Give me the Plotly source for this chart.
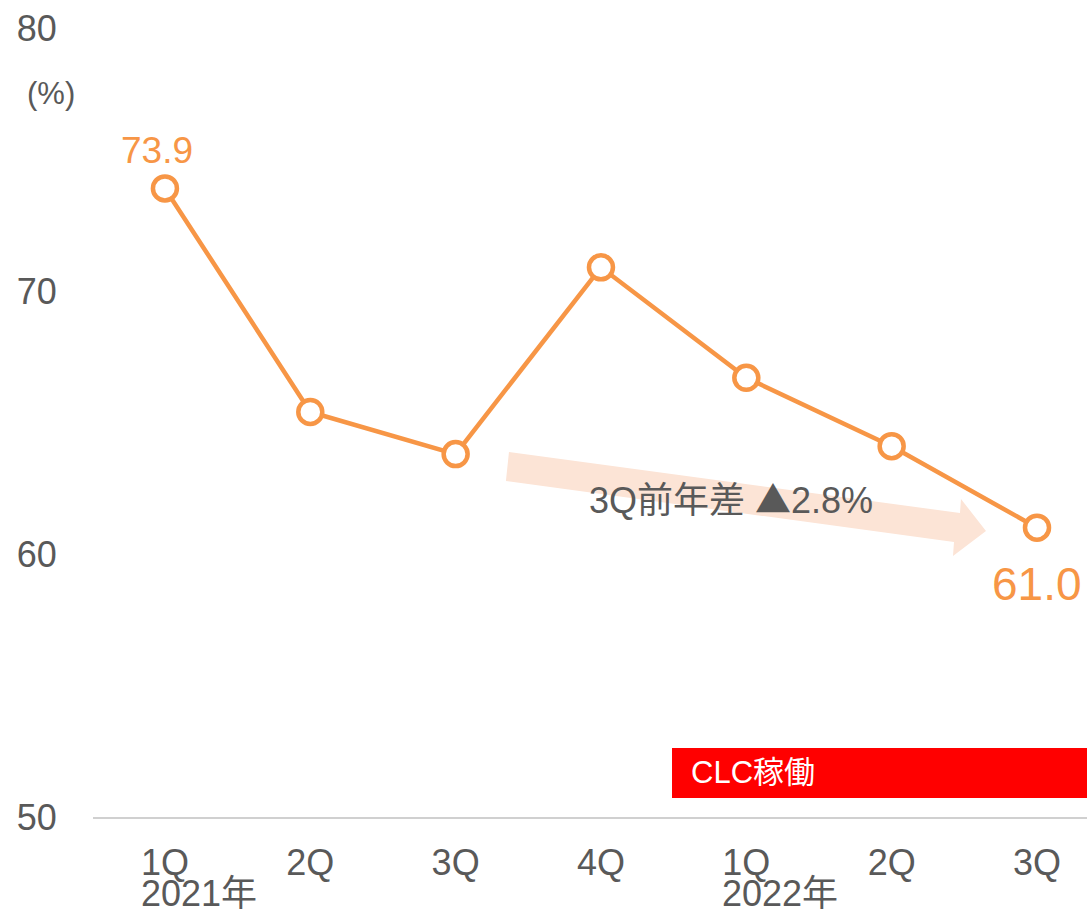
import plotly.graph_objects as go

quarters = ["1Q", "2Q", "3Q", "4Q", "1Q", "2Q", "3Q"]
years = ["2021年", "", "", "", "2022年", "", ""]
values = [73.9, 65.4, 63.8, 70.9, 66.7, 64.1, 61.0]
y_ticks = [50, 60, 70, 80]

ORANGE = "#F79646"
GRAY = "#595959"
FONT = "Liberation Sans, Arial, Noto Sans CJK JP, sans-serif"

xs = list(range(len(values)))

fig = go.Figure()
fig.add_trace(go.Scatter(
    x=xs, y=values, mode="lines+markers",
    line=dict(color=ORANGE, width=4.5),
    marker=dict(size=24, color="white", line=dict(color=ORANGE, width=4.5)),
    hoverinfo="skip", showlegend=False,
))

# arrow (decoration) in data coordinates
arrow_path = ("M 2.367 63.878 L 5.470 61.559 L 5.477 62.091 L 5.649 60.875 "
              "L 5.422 59.924 L 5.429 60.456 L 2.346 62.776 Z")
fig.add_shape(type="path", path=arrow_path, xref="x", yref="y",
              fillcolor="#FCE4D6", line=dict(width=0), layer="below")

# red CLC box
fig.add_shape(type="rect", xref="paper", yref="paper", x0=0.5825, x1=1.0,
              y0=0.024, y1=0.0875, fillcolor="#FF0000", line=dict(width=0), layer="above")
fig.add_annotation(text="CLC稼働", xref="paper", yref="paper", x=0.5995, y=0.0558,
                   xanchor="left", yanchor="middle", showarrow=False,
                   font=dict(size=31, color="white", family=FONT))

# data labels
fig.add_annotation(text=f"{values[0]:.1f}", x=xs[0], y=values[0], yshift=38, xshift=-8,
                   showarrow=False, font=dict(size=37, color=ORANGE, family=FONT))
fig.add_annotation(text=f"{values[-1]:.1f}", x=xs[-1], y=values[-1], yshift=-56,
                   showarrow=False, font=dict(size=46, color=ORANGE, family=FONT))

# arrow label
fig.add_annotation(
    text="3Q前年差 <span style='font-family:Noto Sans CJK JP'>▲</span>2.8%",
    xref="paper", yref="paper",
    x=0.642, y=0.405, showarrow=False, xanchor="center", yanchor="middle",
    font=dict(size=36, color=GRAY, family=FONT))

# (%) unit
fig.add_annotation(text="(%)", xref="paper", yref="paper", x=-0.042, y=0.917,
                   xanchor="center", yanchor="middle", showarrow=False,
                   font=dict(size=31, color=GRAY, family=FONT))

# year labels
for i, yr in enumerate(years):
    if yr:
        fig.add_annotation(text=yr, x=xs[i], xshift=34, y=0, yref="paper", yshift=-76,
                           showarrow=False, xanchor="center", yanchor="middle",
                           font=dict(size=36, color=GRAY, family=FONT))

fig.update_layout(
    width=1087, height=910,
    margin=dict(l=93, r=0, t=28, b=93),
    paper_bgcolor="white", plot_bgcolor="white",
    font=dict(family=FONT, color=GRAY),
    xaxis=dict(
        range=[-0.495, 6.344], tickmode="array", tickvals=xs, ticktext=quarters,
        showgrid=False, zeroline=False, showline=True, linecolor="#D0D0D0", linewidth=1.5,
        ticks="outside", ticklen=13, tickcolor="rgba(0,0,0,0)",
        tickfont=dict(size=36, color=GRAY, family=FONT),
    ),
    yaxis=dict(
        range=[50, 80], tickmode="array", tickvals=y_ticks,
        showgrid=False, zeroline=False, showline=False,
        ticks="outside", ticklen=28, tickcolor="rgba(0,0,0,0)",
        ticklabeloverflow="allow",
        tickfont=dict(size=36, color=GRAY, family=FONT),
    ),
)

fig.write_html(
    "out.html",
    config={"displayModeBar": False, "staticPlot": True},
    post_script=("document.body.style.margin='0';"
                 "document.body.style.overflow='hidden';"
                 "document.documentElement.style.overflow='hidden';"),
)
